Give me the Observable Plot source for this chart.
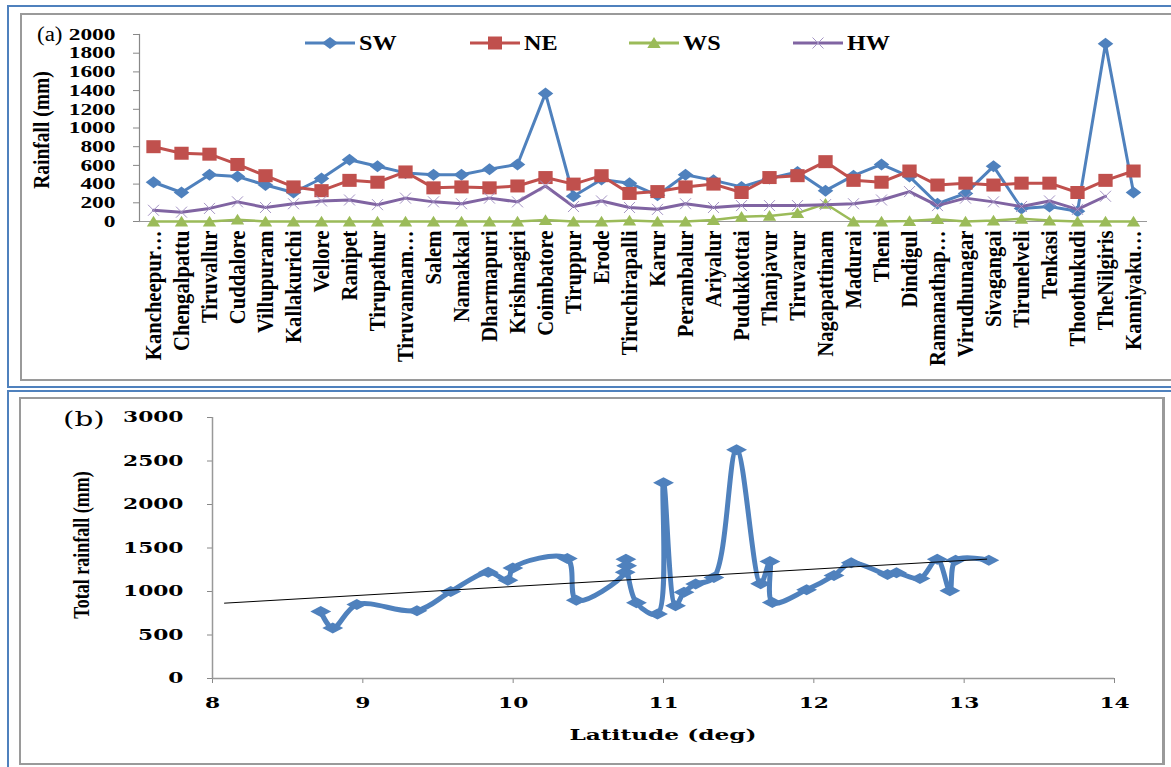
<!DOCTYPE html>
<html><head><meta charset="utf-8">
<script src="https://cdn.jsdelivr.net/npm/d3@7"></script>
<script src="https://cdn.jsdelivr.net/npm/@observablehq/plot@0.6"></script>
<style>
html,body{margin:0;padding:0;background:#fff;width:1171px;height:767px;overflow:hidden;position:relative;font-family:"Liberation Serif",serif;}
.box{position:absolute;box-sizing:border-box;}
.lbl{position:absolute;white-space:nowrap;color:#000;line-height:1;}
.leg{position:absolute;}
</style></head><body>
<div class="box" style="left:7px;top:5px;width:1180px;height:383px;border:2px solid #4F81BD"></div>
<div class="box" style="left:20px;top:13px;width:1170px;height:368px;border:2px solid #9a9a9a"></div>
<div class="box" style="left:7px;top:390px;width:1180px;height:400px;border:2px solid #4F81BD"></div>
<div class="box" style="left:19px;top:397px;width:1146px;height:368px;border:2px solid #9a9a9a;border-right-width:3px"></div>
<div id="a" style="position:absolute;left:22px;top:15px"></div>
<div id="b" style="position:absolute;left:22px;top:399px"></div>

<div class="lbl" style="left:37px;top:24px;font-size:20px;transform:scaleX(1.15);transform-origin:left">(a)</div>
<div class="lbl" style="left:42px;top:130px;font-size:19.5px;font-weight:bold;transform:translate(-50%,-50%) rotate(-90deg) scaleY(1.15)">Rainfall (mm)</div>
<div class="lbl" style="left:63px;top:409px;font-size:21px;font-family:'DejaVu Serif';transform:scaleX(1.4);transform-origin:left">(b)</div>
<div class="lbl" style="left:81px;top:545px;font-size:18px;font-weight:bold;transform:translate(-50%,-50%) rotate(-90deg) scaleY(1.3)">Total rainfall (mm)</div>
<div class="lbl" style="left:663px;top:735px;font-size:15.5px;font-weight:bold;font-family:'DejaVu Serif';transform:translate(-50%,-50%) scaleX(1.5)">Latitude (deg)</div>

<div id="legend"></div>

<script>
// ---------- Panel (a) data ----------
const names = ["Kancheepur…","Chengalpattu","Tiruvallur","Cuddalore","Villupuram","Kallakurichi","Vellore","Ranipet","Tirupathur","Tiruvannam…","Salem","Namakkal","Dharmapuri","Krishnagiri","Coimbatore","Tiruppur","Erode","Tiruchirapalli","Karur","Perambalur","Ariyalur","Pudukkottai","Thanjavur","Tiruvarur","Nagapattinam","Madurai","Theni","Dindigul","Ramanathap…","Virudhunagar","Sivagangai","Tirunelveli","Tenkasi","Thoothukudi","TheNilgiris","Kanniyaku…"];
const SW = [420,310,500,480,390,310,460,660,590,520,500,500,560,610,1370,270,450,410,280,500,440,370,460,530,330,490,610,480,190,300,590,140,160,110,1900,310];
const NE = [800,730,720,610,490,370,330,440,420,530,360,370,360,380,470,400,490,300,320,370,400,310,470,490,640,440,420,540,390,410,390,410,410,310,440,540];
const WS = [0,0,0,20,0,0,0,0,0,0,0,0,0,0,15,0,0,10,0,0,15,50,60,90,190,0,0,5,25,0,10,30,10,0,0,0];
const HW = [120,100,140,210,150,190,220,230,180,250,210,190,250,210,380,160,220,150,130,190,150,170,170,170,180,190,230,320,170,250,210,160,220,130,270,null];
const seriesNames = ["SW","NE","WS","HW"];
const seriesColors = ["#4F81BD","#C0504D","#9BBB59","#8064A2"];
const yTicksA = [0,200,400,600,800,1000,1200,1400,1600,1800,2000];

// ---------- Panel (b) data ----------
const lat   = [8.72,8.80,8.96,9.36,9.585,9.834,9.965,9.998,10.36,10.42,10.745,10.75,10.755,10.82,10.96,11.0,11.08,11.136,11.214,11.335,11.486,11.646,11.708,11.724,11.952,12.134,12.249,12.49,12.55,12.706,12.821,12.905,12.943,13.164];
const total = [770,580,850,780,1000,1220,1130,1270,1380,900,1220,1370,1295,870,740,2250,835,990,1085,1160,2630,1090,1345,873,1020,1185,1330,1195,1215,1150,1370,1010,1360,1360];
const trendLat = [8.08, 13.15];
const trendTotal = [866, 1372];
const yTicksB = [0,500,1000,1500,2000,2500,3000];
const xTicksB = [8,9,10,11,12,13,14];

// ---------- symbols ----------
const rOf = s => Math.sqrt(s / Math.PI);
function diamondSym(wf){ return {draw(ctx,size){const r=rOf(size); ctx.moveTo(-wf*r,0);ctx.lineTo(0,-r);ctx.lineTo(wf*r,0);ctx.lineTo(0,r);ctx.closePath();}}; }
const squareSym = {draw(ctx,size){const r=rOf(size); ctx.rect(-1.1*r,-r,2.2*r,2*r);}};
const triSym = {draw(ctx,size){const r=rOf(size); ctx.moveTo(0,-r);ctx.lineTo(1.15*r,0.85*r);ctx.lineTo(-1.15*r,0.85*r);ctx.closePath();}};
const timesSym = {draw(ctx,size){const r=rOf(size); ctx.moveTo(-r,-r);ctx.lineTo(r,r);ctx.moveTo(-r,r);ctx.lineTo(r,-r);}};

function stretchText(svg, label, sx, sy = 1){
  svg.querySelectorAll(`g[aria-label="${label}"] text`).forEach(t => {
    const tr = t.getAttribute("transform") || "";
    const xs = t.getAttribute("x"), ys = t.getAttribute("y");
    let tx = 0, ty = 0;
    if (xs && !xs.includes("em")) { tx = +xs; t.removeAttribute("x"); }
    if (ys && !ys.includes("em")) { ty = +ys; t.removeAttribute("y"); }
    t.setAttribute("transform", `${tr} translate(${tx},${ty}) scale(${sx},${sy})`.trim());
  });
}

// ---------- Panel (a) ----------
const seriesValues = [SW, NE, WS, HW];
const seriesSym = [diamondSym(1.3), squareSym, triSym, timesSym];
const seriesR = [6, 6.5, 5.8, 5.5];
const seriesMarks = [];
seriesNames.forEach((s, k) => {
  const rows = names.map((n, i) => ({name: n, v: seriesValues[k][i]}));
  seriesMarks.push(Plot.line(rows, {x: "name", y: "v", stroke: seriesColors[k], strokeWidth: k === 2 ? 2.5 : 3}));
  if (k === 3) {
    seriesMarks.push(Plot.dot(rows, {x: "name", y: "v", symbol: seriesSym[k], r: seriesR[k], fill: "none", stroke: "#a493c4", strokeWidth: 1}));
  } else {
    seriesMarks.push(Plot.dot(rows, {x: "name", y: "v", symbol: seriesSym[k], r: seriesR[k], fill: seriesColors[k], stroke: "none"}));
  }
});

const plotA = Plot.plot({
  width: 1145, height: 362,
  marginLeft: 117, marginRight: 20, marginTop: 19, marginBottom: 156,
  style: {background: "transparent", fontFamily: "Liberation Serif", fontWeight: "bold", fontSize: "16px", color: "#000"},
  x: {type: "point", domain: names, padding: 0.5},
  y: {domain: [0, 2000]},
  marks: [
    Plot.axisY({ticks: yTicksA, tickSize: 6, tickPadding: 18, stroke: "#888", tickFormat: "d", label: null, fontSize: 16.5, fontWeight: "bold"}),
    Plot.axisX({tickSize: 0, tickPadding: 9, tickRotate: -90, label: null, fontSize: 19.5, fontWeight: "bold"}),
    Plot.frame({anchor: "left", stroke: "#888", strokeWidth: 1.2}),
    Plot.ruleY([0], {stroke: "#999", strokeWidth: 1.2}),
    ...seriesMarks
  ]
});
stretchText(plotA, "y-axis tick label", 1.42);
stretchText(plotA, "x-axis tick label", 1.06, 1.15);
document.getElementById("a").appendChild(plotA);

// ---------- Legend (a) ----------
const legX = [305, 470, 629, 793];
const legSyms = ["M-8,0L0,-6L8,0L0,6Z", "M-7,-6.5h14v13h-14Z", "M0,-6L6.7,5H-6.7Z", "M-5.5,-5.5L5.5,5.5M-5.5,5.5L5.5,-5.5"];
const legend = document.getElementById("legend");
seriesNames.forEach((s, k) => {
  const c = seriesColors[k];
  const mk = k === 3
    ? `<path d="${legSyms[k]}" transform="translate(25,10)" fill="none" stroke="#a493c4" stroke-width="1"/>`
    : `<path d="${legSyms[k]}" transform="translate(25,10)" fill="${c}"/>`;
  const d = document.createElement("div");
  d.className = "leg";
  d.style.left = legX[k] + "px"; d.style.top = "33px";
  d.innerHTML = `<svg width="50" height="20" style="display:block"><line x1="0" x2="50" y1="10" y2="10" stroke="${c}" stroke-width="3"/>${mk}</svg>`;
  legend.appendChild(d);
  const t = document.createElement("div");
  t.className = "lbl";
  t.style.left = (legX[k] + 54) + "px"; t.style.top = "33px";
  t.style.fontSize = "21px"; t.style.fontWeight = "bold";
  t.style.transform = "scaleX(1.15)"; t.style.transformOrigin = "left";
  t.textContent = s;
  legend.appendChild(t);
});

// ---------- Panel (b) ----------
const ptsB = lat.map((l, i) => ({lat: l, v: total[i]}));
const trend = trendLat.map((l, i) => ({lat: l, v: trendTotal[i]}));
const plotB = Plot.plot({
  width: 1141, height: 364,
  marginLeft: 190, marginRight: 49, marginTop: 18, marginBottom: 85,
  style: {background: "transparent", fontFamily: "DejaVu Serif", fontWeight: "bold", fontSize: "14.5px", color: "#000"},
  x: {domain: [8, 14]},
  y: {domain: [0, 3000]},
  marks: [
    Plot.axisY({ticks: yTicksB, tickSize: 5, tickPadding: 24, stroke: "#888", tickFormat: "d", label: null}),
    Plot.axisX({ticks: xTicksB, tickSize: 5, tickPadding: 14, stroke: "#888", tickFormat: "d", label: null}),
    Plot.ruleX([8], {stroke: "#999", strokeWidth: 1.5}),
    Plot.ruleY([0], {stroke: "#999", strokeWidth: 1.5}),
    Plot.line(ptsB, {x: "lat", y: "v", stroke: "#4F81BD", strokeWidth: 5, curve: "catmull-rom"}),
    Plot.dot(ptsB, {x: "lat", y: "v", symbol: diamondSym(1.9), r: 5.5, fill: "#4F81BD", stroke: "none"}),
    Plot.line(trend, {x: "lat", y: "v", stroke: "#000", strokeWidth: 1})
  ]
});
stretchText(plotB, "y-axis tick label", 1.5);
stretchText(plotB, "x-axis tick label", 1.5);
document.getElementById("b").appendChild(plotB);
</script>
</body></html>
